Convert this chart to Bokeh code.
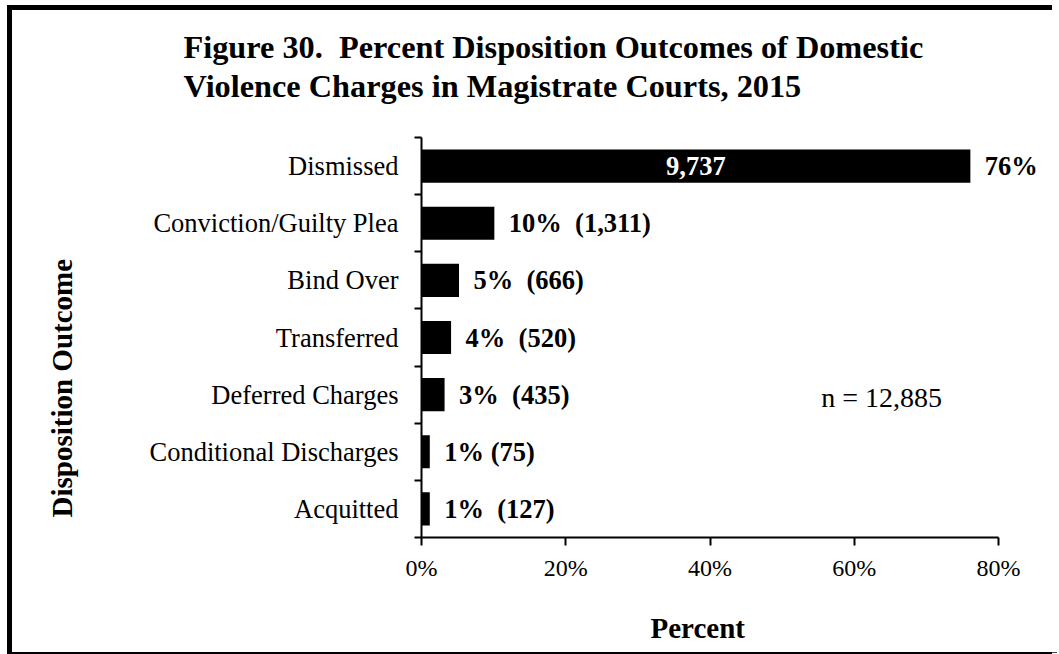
import numpy as np
from bokeh.plotting import figure
from bokeh.models import (Range1d, FixedTicker, PrintfTickFormatter, Label,
                          ColumnDataSource, Title, LinearAxis)
from bokeh.core.properties import value
from bokeh.embed import file_html
from bokeh.resources import INLINE

# ---- data (top to bottom as shown) ----
categories = ["Dismissed", "Conviction/Guilty Plea", "Bind Over", "Transferred",
              "Deferred Charges", "Conditional Discharges", "Acquitted"]
percent_values = [76.1, 10.1, 5.2, 4.1, 3.2, 1.15, 1.15]
percent_labels = ["76%", "10%", "5%", "4%", "3%", "1%", "1%"]
counts = [9737, 1311, 666, 520, 435, 75, 127]
label_gaps = ["", "\u00a0\u00a0", "\u00a0\u00a0", "\u00a0\u00a0", "\u00a0\u00a0", " ", "\u00a0\u00a0"]
total_n = 12885
x_ticks = [0, 20, 40, 60, 80]

FONT = "Liberation Serif"
n = len(categories)
centers = [n - 0.5 - i for i in range(n)]   # Dismissed at top
outside_text = []
for i in range(n):
    if i == 0:
        outside_text.append(percent_labels[i])
    else:
        outside_text.append(f"{percent_labels[i]}{label_gaps[i]}({counts[i]:,})")

src = ColumnDataSource(dict(y=centers, pct=percent_values, txt=outside_text,
                            mid=[v / 2 for v in percent_values]))

PX_PER_PCT = 577 / 80
W, H = 1045, 642
FL, FT, FH = 409, 127, 400
X_END = (W - FL) / PX_PER_PCT

p = figure(width=W, height=H, output_backend="svg", toolbar_location=None, title=None,
           x_range=Range1d(0, X_END), y_range=Range1d(0, n),
           min_border_left=FL, min_border_right=0, min_border_top=FT,
           min_border_bottom=H - FT - FH)
p.styles = {"margin-left": "12px", "margin-top": "10px",
            "box-shadow": "-5px -5px 0 0 black, -5px 2px 0 0 black, 0 1px 0 0 #444"}
p.outline_line_color = None
p.xgrid.visible = False
p.ygrid.visible = False
p.background_fill_color = "white"
p.border_fill_color = "white"

p.hbar(y="y", left=0, right="pct", height=0.58, source=src,
       fill_color="black", line_color=None)

p.text(x="pct", y="y", text="txt", source=src, x_offset=14.5,
       text_align="left", text_baseline="middle",
       text_font=value(FONT), text_font_style="bold", text_font_size="26.5px",
       text_color="black")

inside = ColumnDataSource(dict(x=[src.data["mid"][0]], y=[centers[0]],
                               t=[f"{counts[0]:,}"]))
p.text(x="x", y="y", text="t", source=inside, text_align="center",
       text_baseline="middle", text_font=value(FONT), text_font_style="bold",
       text_font_size="26.5px", text_color="white")

# x axis
xa = p.xaxis[0]
xa.ticker = FixedTicker(ticks=x_ticks)
xa.formatter = PrintfTickFormatter(format="%d%%")
xa.bounds = (0, 80)
xa.axis_line_width = 2
xa.axis_line_color = "black"
xa.major_tick_out = 8
xa.major_tick_in = 0
xa.major_tick_line_width = 2
xa.major_tick_line_color = "black"
xa.minor_tick_line_color = None
xa.major_label_text_font = FONT
xa.major_label_text_font_size = "24px"
xa.major_label_text_color = "black"
xa.major_label_standoff = 9

# y axis
ya = p.yaxis[0]
ya.ticker = FixedTicker(ticks=centers, minor_ticks=list(range(n + 1)))
ya.major_label_overrides = {c: cat for c, cat in zip(centers, categories)}
ya.axis_line_width = 2
ya.axis_line_color = "black"
ya.major_tick_line_color = None
ya.major_tick_out = 0
ya.major_tick_in = 0
ya.minor_tick_out = 7
ya.minor_tick_in = 0
ya.minor_tick_line_width = 2
ya.minor_tick_line_color = "black"
ya.major_label_text_font = FONT
ya.major_label_text_font_size = "26.5px"
ya.major_label_text_color = "black"
ya.major_label_standoff = 16


def spacer(size, pos, lo, hi):
    # a blank (white) axis segment, used only to reserve room in a side panel
    return LinearAxis(ticker=FixedTicker(ticks=[pos], minor_ticks=[]), bounds=(lo, hi),
                      axis_line_color="white", axis_line_width=1,
                      major_tick_line_color="white", major_tick_line_width=1,
                      major_tick_out=size, major_tick_in=0,
                      minor_tick_line_color=None, minor_tick_out=0, minor_tick_in=0,
                      major_label_standoff=0, major_label_text_font_size="0px",
                      major_label_text_color="white",
                      major_label_overrides={pos: ""})


# chart title (two lines)
p.add_layout(spacer(33, X_END - 0.6, X_END - 1.0, X_END - 0.2), "above")
t2 = Title(text="Violence Charges in Magistrate Courts, 2015", align="left", offset=-238,
           standoff=2, text_font=FONT, text_font_style="bold", text_font_size="32.3px",
           text_color="black")
t1 = Title(text="Figure 30.\u00a0\u00a0Percent Disposition Outcomes of Domestic", align="left",
           offset=-238, standoff=0, text_font=FONT, text_font_style="bold",
           text_font_size="32.3px", text_color="black")
p.add_layout(t2, "above")
p.add_layout(t1, "above")

# axis titles
p.add_layout(spacer(25, X_END - 0.6, X_END - 1.0, X_END - 0.2), "below")
p.add_layout(Title(text="Percent", align="left", offset=229, standoff=2,
                   text_font=FONT, text_font_style="bold", text_font_size="29px",
                   text_color="black"), "below")
p.add_layout(spacer(68, 0.02, 0.0, 0.04), "left")
p.add_layout(Title(text="Disposition Outcome", align="left", offset=20, standoff=2,
                   text_font=FONT, text_font_style="bold", text_font_size="29px",
                   text_color="black"), "left")

p.add_layout(Label(x=399.7, y=140.3, x_units="screen", y_units="screen",
                   text=f"n = {total_n:,}", text_font=FONT, text_font_size="28px",
                   text_color="black", text_align="left", text_baseline="alphabetic"))

open("out.html", "w").write(file_html(p, INLINE))
